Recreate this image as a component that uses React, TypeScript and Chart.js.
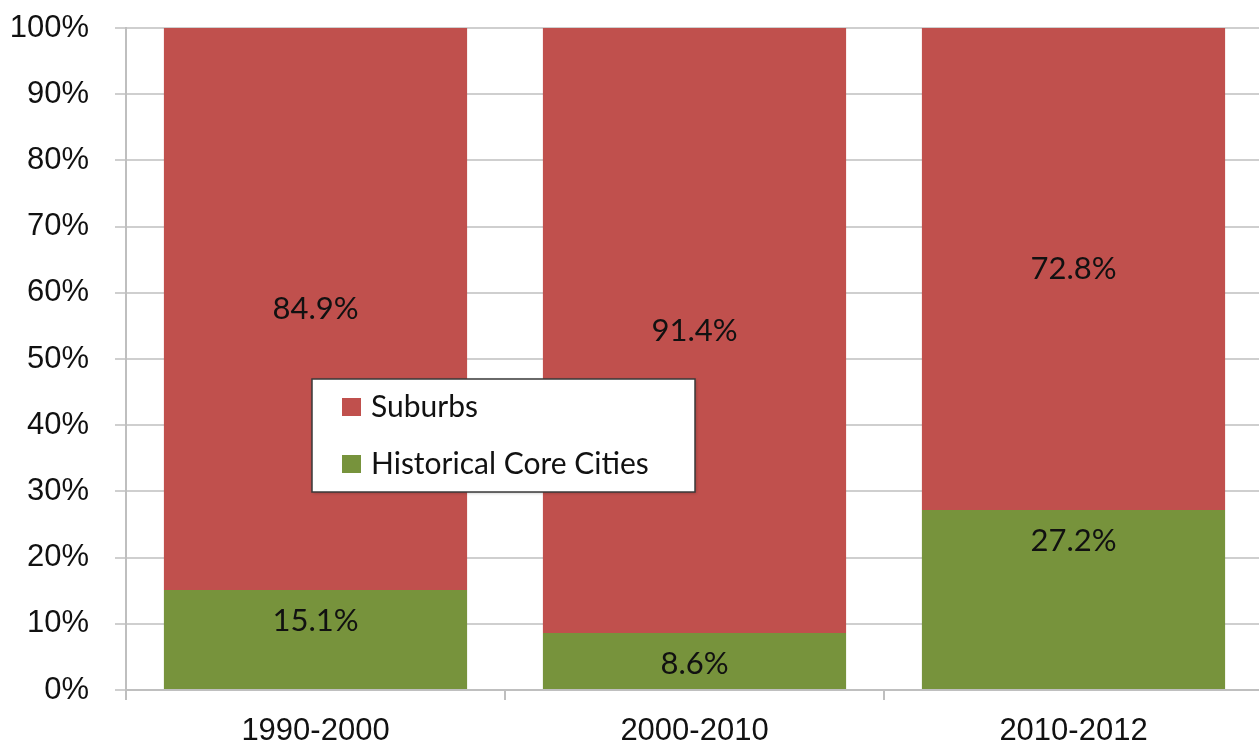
import React, { useEffect, useRef } from "react";
import { Chart, registerables } from "chart.js";

Chart.register(...registerables);

const categories = ["1990-2000", "2000-2010", "2010-2012"];
const coreCities = [15.1, 8.6, 27.2];
const suburbs = [84.9, 91.4, 72.8];
const seriesLabels = ["Historical Core Cities", "Suburbs"];
const seriesColors = ["#77933C", "#C0504D"];

const labelPlugin = {
  id: "valueLabels",
  afterDatasetsDraw(chart: any) {
    const ctx = chart.ctx;
    ctx.save();
    ctx.font = "31px Lato";
    ctx.fillStyle = "#111111";
    ctx.textAlign = "center";
    ctx.textBaseline = "middle";
    chart.data.datasets.forEach((ds: any, di: number) => {
      const meta = chart.getDatasetMeta(di);
      meta.data.forEach((el: any, i: number) => {
        const v = ds.data[i];
        const txt = v.toFixed(1) + "%";
        let y;
        if (di === 0) y = el.y + 31;
        else y = (el.y + el.base) / 2;
        ctx.fillText(txt, el.x, y);
      });
    });
    ctx.restore();
  },
};

const legendPlugin = {
  id: "insideLegend",
  afterDraw(chart: any) {
    const ctx = chart.ctx;
    const a = chart.chartArea;
    const left = a.left + 186;
    const top = a.top + 351;
    const w = 383;
    const h = 113;
    ctx.save();
    ctx.shadowColor = "rgba(0,0,0,0.25)";
    ctx.shadowBlur = 3;
    ctx.shadowOffsetX = 1;
    ctx.shadowOffsetY = 1;
    ctx.fillStyle = "#ffffff";
    ctx.fillRect(left, top, w, h);
    ctx.shadowColor = "transparent";
    ctx.strokeStyle = "#3a3a3a";
    ctx.lineWidth = 1.5;
    ctx.strokeRect(left, top, w, h);
    const order = [1, 0];
    ctx.font = "30px Lato";
    ctx.textAlign = "left";
    ctx.textBaseline = "middle";
    order.forEach((di, k) => {
      const ds = chart.data.datasets[di];
      const cy = top + 28 + k * 57;
      ctx.fillStyle = ds.backgroundColor;
      ctx.fillRect(left + 30, cy - 9, 19, 18);
      ctx.fillStyle = "#111111";
      ctx.fillText(ds.label, left + 59, cy);
    });
    ctx.restore();
  },
};

export default function App() {
  const ref = useRef<HTMLCanvasElement>(null);
  useEffect(() => {
    if (!ref.current) return;
    const chart = new Chart(ref.current, {
      type: "bar",
      data: {
        labels: categories,
        datasets: [
          {
            label: seriesLabels[0],
            data: coreCities,
            backgroundColor: seriesColors[0],
            categoryPercentage: 1,
            barPercentage: 0.8,
          },
          {
            label: seriesLabels[1],
            data: suburbs,
            backgroundColor: seriesColors[1],
            categoryPercentage: 1,
            barPercentage: 0.8,
          },
        ],
      },
      options: {
        animation: false,
        responsive: false,
        maintainAspectRatio: false,
        layout: { padding: { top: 28, right: 7, left: 0, bottom: 0 } },
        plugins: {
          legend: { display: false },
          tooltip: { enabled: false },
        },
        scales: {
          x: {
            stacked: true,
            grid: {
              display: true,
              drawOnChartArea: false,
              drawTicks: true,
              tickLength: 10,
              color: "#bfbfbf",
              lineWidth: 2,
              offset: true,
            },
            border: { display: true, color: "#bfbfbf", width: 2 },
            ticks: {
              font: { family: "Liberation Sans", size: 31 },
              color: "#111111",
              padding: 13,
              maxRotation: 0,
            },
            afterFit(scale: any) {
              scale.height = 60;
              scale.paddingLeft = 0;
              scale.paddingRight = 0;
            },
          },
          y: {
            stacked: true,
            min: 0,
            max: 100,
            grid: {
              color: "#cfcfcf",
              lineWidth: 2,
              tickLength: 11,
              drawTicks: true,
            },
            border: { display: true, color: "#bfbfbf", width: 2 },
            ticks: {
              stepSize: 10,
              font: { family: "Liberation Sans", size: 31 },
              color: "#111111",
              padding: 26,
              callback: (v: any) => v + "%",
            },
            afterFit(scale: any) {
              scale.width = 126;
              scale.paddingTop = 0;
              scale.paddingBottom = 0;
            },
          },
        },
      },
      plugins: [labelPlugin, legendPlugin],
    });
    return () => chart.destroy();
  }, []);
  return (
    <div
      style={{
        position: "fixed",
        left: 0,
        top: 0,
        width: 1259,
        height: 750,
        overflow: "hidden",
        background: "#fff",
      }}
    >
      <canvas ref={ref} width={1270} height={750} style={{ width: 1270, height: 750, display: "block" }} />
    </div>
  );
}
